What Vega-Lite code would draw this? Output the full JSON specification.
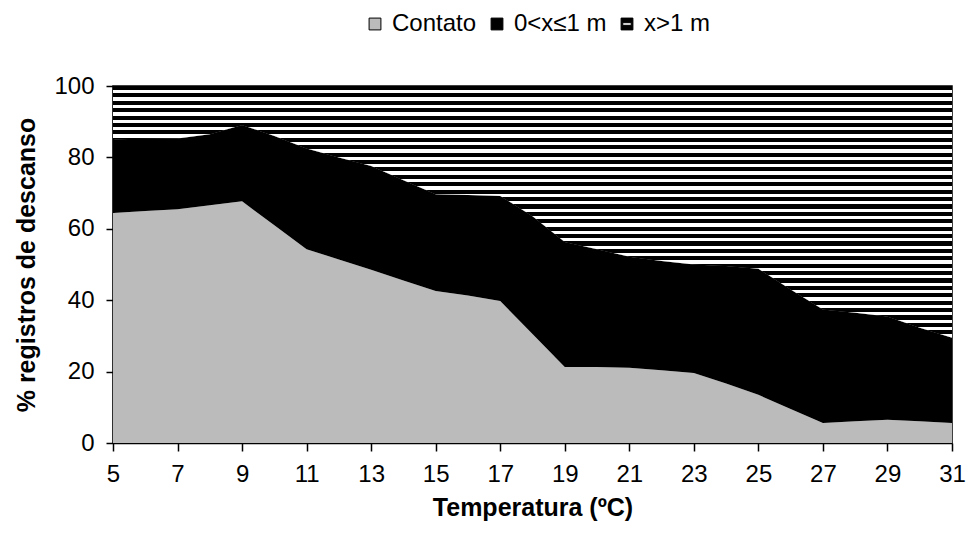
{
 "$schema": "https://vega.github.io/schema/vega-lite/v6.json",
 "width": 839, "height": 357,
 "autosize": "none",
 "padding": {"left": 113, "top": 86, "right": 17, "bottom": 103},
 "background": "white",
 "config": {"font": "Liberation Sans", "view": {"stroke": "black", "strokeWidth": 1.5}},
 "data": {"values": [
  {"t":5,"s":"Contato","k":1,"v":64.4},{"t":5,"s":"0<x≤1 m","k":2,"v":20.7},{"t":5,"s":"x>1 m","k":3,"v":14.9},
  {"t":6,"s":"Contato","k":1,"v":65.0},{"t":6,"s":"0<x≤1 m","k":2,"v":20.2},{"t":6,"s":"x>1 m","k":3,"v":14.8},
  {"t":7,"s":"Contato","k":1,"v":65.5},{"t":7,"s":"0<x≤1 m","k":2,"v":19.8},{"t":7,"s":"x>1 m","k":3,"v":14.7},
  {"t":8,"s":"Contato","k":1,"v":66.6},{"t":8,"s":"0<x≤1 m","k":2,"v":19.9},{"t":8,"s":"x>1 m","k":3,"v":13.5},
  {"t":9,"s":"Contato","k":1,"v":67.7},{"t":9,"s":"0<x≤1 m","k":2,"v":21.4},{"t":9,"s":"x>1 m","k":3,"v":10.9},
  {"t":10,"s":"Contato","k":1,"v":61.0},{"t":10,"s":"0<x≤1 m","k":2,"v":25.0},{"t":10,"s":"x>1 m","k":3,"v":14.0},
  {"t":11,"s":"Contato","k":1,"v":54.3},{"t":11,"s":"0<x≤1 m","k":2,"v":28.2},{"t":11,"s":"x>1 m","k":3,"v":17.5},
  {"t":12,"s":"Contato","k":1,"v":51.4},{"t":12,"s":"0<x≤1 m","k":2,"v":28.6},{"t":12,"s":"x>1 m","k":3,"v":20.0},
  {"t":13,"s":"Contato","k":1,"v":48.5},{"t":13,"s":"0<x≤1 m","k":2,"v":29.1},{"t":13,"s":"x>1 m","k":3,"v":22.4},
  {"t":14,"s":"Contato","k":1,"v":45.5},{"t":14,"s":"0<x≤1 m","k":2,"v":28.1},{"t":14,"s":"x>1 m","k":3,"v":26.4},
  {"t":15,"s":"Contato","k":1,"v":42.6},{"t":15,"s":"0<x≤1 m","k":2,"v":27.1},{"t":15,"s":"x>1 m","k":3,"v":30.3},
  {"t":16,"s":"Contato","k":1,"v":41.3},{"t":16,"s":"0<x≤1 m","k":2,"v":28.2},{"t":16,"s":"x>1 m","k":3,"v":30.5},
  {"t":17,"s":"Contato","k":1,"v":39.8},{"t":17,"s":"0<x≤1 m","k":2,"v":29.4},{"t":17,"s":"x>1 m","k":3,"v":30.8},
  {"t":18,"s":"Contato","k":1,"v":30.5},{"t":18,"s":"0<x≤1 m","k":2,"v":33.0},{"t":18,"s":"x>1 m","k":3,"v":36.5},
  {"t":19,"s":"Contato","k":1,"v":21.3},{"t":19,"s":"0<x≤1 m","k":2,"v":35.0},{"t":19,"s":"x>1 m","k":3,"v":43.7},
  {"t":20,"s":"Contato","k":1,"v":21.3},{"t":20,"s":"0<x≤1 m","k":2,"v":33.0},{"t":20,"s":"x>1 m","k":3,"v":45.7},
  {"t":21,"s":"Contato","k":1,"v":21.1},{"t":21,"s":"0<x≤1 m","k":2,"v":31.1},{"t":21,"s":"x>1 m","k":3,"v":47.8},
  {"t":22,"s":"Contato","k":1,"v":20.4},{"t":22,"s":"0<x≤1 m","k":2,"v":30.6},{"t":22,"s":"x>1 m","k":3,"v":49.0},
  {"t":23,"s":"Contato","k":1,"v":19.6},{"t":23,"s":"0<x≤1 m","k":2,"v":30.4},{"t":23,"s":"x>1 m","k":3,"v":50.0},
  {"t":24,"s":"Contato","k":1,"v":16.7},{"t":24,"s":"0<x≤1 m","k":2,"v":32.9},{"t":24,"s":"x>1 m","k":3,"v":50.4},
  {"t":25,"s":"Contato","k":1,"v":13.5},{"t":25,"s":"0<x≤1 m","k":2,"v":35.3},{"t":25,"s":"x>1 m","k":3,"v":51.2},
  {"t":26,"s":"Contato","k":1,"v":9.5},{"t":26,"s":"0<x≤1 m","k":2,"v":33.5},{"t":26,"s":"x>1 m","k":3,"v":57.0},
  {"t":27,"s":"Contato","k":1,"v":5.6},{"t":27,"s":"0<x≤1 m","k":2,"v":31.8},{"t":27,"s":"x>1 m","k":3,"v":62.6},
  {"t":28,"s":"Contato","k":1,"v":6.1},{"t":28,"s":"0<x≤1 m","k":2,"v":30.4},{"t":28,"s":"x>1 m","k":3,"v":63.5},
  {"t":29,"s":"Contato","k":1,"v":6.5},{"t":29,"s":"0<x≤1 m","k":2,"v":28.9},{"t":29,"s":"x>1 m","k":3,"v":64.6},
  {"t":30,"s":"Contato","k":1,"v":6.1},{"t":30,"s":"0<x≤1 m","k":2,"v":26.2},{"t":30,"s":"x>1 m","k":3,"v":67.7},
  {"t":31,"s":"Contato","k":1,"v":5.6},{"t":31,"s":"0<x≤1 m","k":2,"v":23.9},{"t":31,"s":"x>1 m","k":3,"v":70.5}
 ]},
 "transform": [
  {"stack": "v", "groupby": ["t"], "sort": [{"field": "k", "order": "ascending"}], "as": ["v0", "v1"]}
 ],
 "layer": [
  {
   "mark": {"type": "area", "interpolate": "linear"},
   "encoding": {
    "x": {"field": "t", "type": "quantitative",
     "scale": {"domain": [5, 31], "nice": false, "zero": false},
     "axis": {"title": "Temperatura (ºC)", "values": [5,7,9,11,13,15,17,19,21,23,25,27,29,31], "grid": false,
      "domainColor": "black", "domainWidth": 1.5, "tickColor": "black", "tickWidth": 1.5, "tickSize": 8,
      "labelFontSize": 24, "labelColor": "black", "labelPadding": 11, "labelFlush": false,
      "titleFontSize": 25, "titleFontWeight": "bold", "titleColor": "black", "titlePadding": 9}},
    "y": {"field": "v1", "type": "quantitative",
     "scale": {"domain": [0, 100], "nice": false},
     "axis": {"title": "% registros de descanso", "values": [0,20,40,60,80,100], "grid": false,
      "domainColor": "black", "domainWidth": 1.5, "tickColor": "black", "tickWidth": 1.5, "tickSize": 7,
      "labelFontSize": 24, "labelColor": "black", "labelPadding": 12,
      "titleFontSize": 25, "titleFontWeight": "bold", "titleColor": "black", "titlePadding": 14}},
    "y2": {"field": "v0"},
    "color": {"field": "s", "type": "nominal",
     "scale": {"domain": ["Contato", "0<x≤1 m", "x>1 m"], "range": ["#bbbbbb", "#000000", "#000000"]},
     "legend": {"orient": "none", "legendX": 250, "legendY": -74, "direction": "horizontal", "title": null,
      "symbolType": "square", "symbolSize": 140, "symbolStrokeColor": "black", "symbolStrokeWidth": 1,
      "labelFontSize": 24, "labelColor": "black", "labelOffset": 5, "columnPadding": 8,
      "encode": {"symbols": {"update": {
       "shape": [{"test": "datum.value === 'x>1 m'", "value": "M-1,-1H1V1H-1Z M-0.72,-0.22V0.22H0.72V-0.22Z"}, {"value": "square"}],
       "stroke": {"value": "#000000"},
       "strokeWidth": {"value": 1}
      }}}}}
   }
  },
  {
   "transform": [{"filter": "datum.s === 'x>1 m'"}],
   "mark": {"type": "area", "interpolate": "linear",
    "fill": {"gradient": "linear", "x1": 0, "y1": 0, "x2": 0, "y2": 1, "stops": [
      {"offset":0,"color":"#000"},{"offset":0.0162,"color":"#000"},{"offset":0.0162,"color":"#fff"},{"offset":0.0294,"color":"#fff"},
      {"offset":0.0294,"color":"#000"},{"offset":0.0456,"color":"#000"},{"offset":0.0456,"color":"#fff"},{"offset":0.0588,"color":"#fff"},
      {"offset":0.0588,"color":"#000"},{"offset":0.0750,"color":"#000"},{"offset":0.0750,"color":"#fff"},{"offset":0.0882,"color":"#fff"},
      {"offset":0.0882,"color":"#000"},{"offset":0.1044,"color":"#000"},{"offset":0.1044,"color":"#fff"},{"offset":0.1176,"color":"#fff"},
      {"offset":0.1176,"color":"#000"},{"offset":0.1338,"color":"#000"},{"offset":0.1338,"color":"#fff"},{"offset":0.1471,"color":"#fff"},
      {"offset":0.1471,"color":"#000"},{"offset":0.1632,"color":"#000"},{"offset":0.1632,"color":"#fff"},{"offset":0.1765,"color":"#fff"},
      {"offset":0.1765,"color":"#000"},{"offset":0.1926,"color":"#000"},{"offset":0.1926,"color":"#fff"},{"offset":0.2059,"color":"#fff"},
      {"offset":0.2059,"color":"#000"},{"offset":0.2221,"color":"#000"},{"offset":0.2221,"color":"#fff"},{"offset":0.2353,"color":"#fff"},
      {"offset":0.2353,"color":"#000"},{"offset":0.2515,"color":"#000"},{"offset":0.2515,"color":"#fff"},{"offset":0.2647,"color":"#fff"},
      {"offset":0.2647,"color":"#000"},{"offset":0.2809,"color":"#000"},{"offset":0.2809,"color":"#fff"},{"offset":0.2941,"color":"#fff"},
      {"offset":0.2941,"color":"#000"},{"offset":0.3103,"color":"#000"},{"offset":0.3103,"color":"#fff"},{"offset":0.3235,"color":"#fff"},
      {"offset":0.3235,"color":"#000"},{"offset":0.3397,"color":"#000"},{"offset":0.3397,"color":"#fff"},{"offset":0.3529,"color":"#fff"},
      {"offset":0.3529,"color":"#000"},{"offset":0.3691,"color":"#000"},{"offset":0.3691,"color":"#fff"},{"offset":0.3824,"color":"#fff"},
      {"offset":0.3824,"color":"#000"},{"offset":0.3985,"color":"#000"},{"offset":0.3985,"color":"#fff"},{"offset":0.4118,"color":"#fff"},
      {"offset":0.4118,"color":"#000"},{"offset":0.4279,"color":"#000"},{"offset":0.4279,"color":"#fff"},{"offset":0.4412,"color":"#fff"},
      {"offset":0.4412,"color":"#000"},{"offset":0.4574,"color":"#000"},{"offset":0.4574,"color":"#fff"},{"offset":0.4706,"color":"#fff"},
      {"offset":0.4706,"color":"#000"},{"offset":0.4868,"color":"#000"},{"offset":0.4868,"color":"#fff"},{"offset":0.5,"color":"#fff"},
      {"offset":0.5,"color":"#000"},{"offset":0.5162,"color":"#000"},{"offset":0.5162,"color":"#fff"},{"offset":0.5294,"color":"#fff"},
      {"offset":0.5294,"color":"#000"},{"offset":0.5456,"color":"#000"},{"offset":0.5456,"color":"#fff"},{"offset":0.5588,"color":"#fff"},
      {"offset":0.5588,"color":"#000"},{"offset":0.5750,"color":"#000"},{"offset":0.5750,"color":"#fff"},{"offset":0.5882,"color":"#fff"},
      {"offset":0.5882,"color":"#000"},{"offset":0.6044,"color":"#000"},{"offset":0.6044,"color":"#fff"},{"offset":0.6176,"color":"#fff"},
      {"offset":0.6176,"color":"#000"},{"offset":0.6338,"color":"#000"},{"offset":0.6338,"color":"#fff"},{"offset":0.6471,"color":"#fff"},
      {"offset":0.6471,"color":"#000"},{"offset":0.6632,"color":"#000"},{"offset":0.6632,"color":"#fff"},{"offset":0.6765,"color":"#fff"},
      {"offset":0.6765,"color":"#000"},{"offset":0.6926,"color":"#000"},{"offset":0.6926,"color":"#fff"},{"offset":0.7059,"color":"#fff"},
      {"offset":0.7059,"color":"#000"},{"offset":0.7221,"color":"#000"},{"offset":0.7221,"color":"#fff"},{"offset":0.7353,"color":"#fff"},
      {"offset":0.7353,"color":"#000"},{"offset":0.7515,"color":"#000"},{"offset":0.7515,"color":"#fff"},{"offset":0.7647,"color":"#fff"},
      {"offset":0.7647,"color":"#000"},{"offset":0.7809,"color":"#000"},{"offset":0.7809,"color":"#fff"},{"offset":0.7941,"color":"#fff"},
      {"offset":0.7941,"color":"#000"},{"offset":0.8103,"color":"#000"},{"offset":0.8103,"color":"#fff"},{"offset":0.8235,"color":"#fff"},
      {"offset":0.8235,"color":"#000"},{"offset":0.8397,"color":"#000"},{"offset":0.8397,"color":"#fff"},{"offset":0.8529,"color":"#fff"},
      {"offset":0.8529,"color":"#000"},{"offset":0.8691,"color":"#000"},{"offset":0.8691,"color":"#fff"},{"offset":0.8824,"color":"#fff"},
      {"offset":0.8824,"color":"#000"},{"offset":0.8985,"color":"#000"},{"offset":0.8985,"color":"#fff"},{"offset":0.9118,"color":"#fff"},
      {"offset":0.9118,"color":"#000"},{"offset":0.9279,"color":"#000"},{"offset":0.9279,"color":"#fff"},{"offset":0.9412,"color":"#fff"},
      {"offset":0.9412,"color":"#000"},{"offset":0.9574,"color":"#000"},{"offset":0.9574,"color":"#fff"},{"offset":0.9706,"color":"#fff"},
      {"offset":0.9706,"color":"#000"},{"offset":0.9868,"color":"#000"},{"offset":0.9868,"color":"#fff"},{"offset":1,"color":"#fff"}
    ]}},
   "encoding": {
    "x": {"field": "t", "type": "quantitative"},
    "y": {"field": "v1", "type": "quantitative"},
    "y2": {"field": "v0"}
   }
  }
 ]
}
